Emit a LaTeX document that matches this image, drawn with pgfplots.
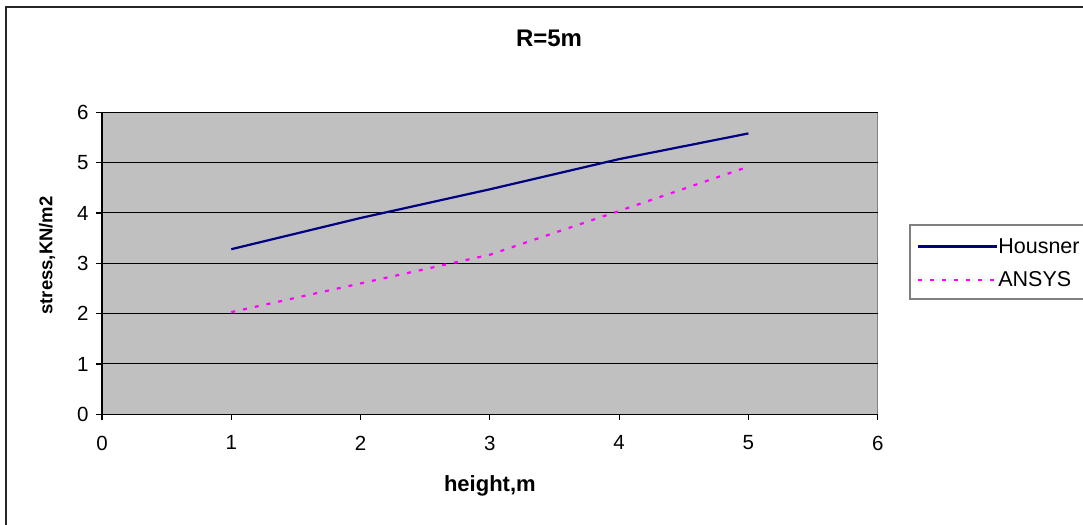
\documentclass[border=0pt]{standalone}
\usepackage{pgfplots}
\pgfplotsset{compat=1.18}
\usepackage{fontspec}
\setmainfont{Liberation Sans}
\definecolor{plotgray}{HTML}{C0C0C0}
\definecolor{framegray}{HTML}{808080}
\definecolor{housner}{HTML}{000080}
\definecolor{ansys}{HTML}{FF00FF}
\begin{document}
\begin{tikzpicture}[x=1bp,y=1bp]
\useasboundingbox (0,0) rectangle (1083,525);
\clip (0,0) rectangle (1083,525);
% chart frame
\draw[line width=1.5bp, black!85] (6,-5) -- (6,518) -- (1100,518);
% legend frame
\draw[framegray, line width=1.3bp] (910,300) rectangle (1100,226);
\begin{axis}[
  at={(102bp,110.7bp)}, anchor=south west,
  width=775.7bp, height=302bp, scale only axis,
  xmin=0, xmax=6, ymin=0, ymax=6,
  xtick={0,1,2,3,4,5,6}, ytick={0,1,2,3,4,5,6},
  axis x line=bottom, axis y line=left,
  x axis line style={-, black, line width=1.3bp},
  y axis line style={-, black, line width=1.3bp},
  axis background/.style={fill=plotgray, draw=framegray, line width=1.5bp},
  tick align=outside, major tick length=6bp,
  tick style={black, line width=1.2bp},
  ymajorgrids, grid style={black, line width=1bp},
  /pgf/number format/assume math mode=true,
  every tick label/.append style={font=\fontsize{20.5bp}{24bp}\selectfont},
  yticklabel style={xshift=-4bp},
  xticklabel style={yshift=-12bp},
  title={\textbf{R=5m}},
  title style={at={(axis description cs:0.5763,1.225)}, anchor=center,
    font=\fontsize{24bp}{28bp}\selectfont},
  xlabel={\textbf{height,m}},
  xlabel style={at={(axis description cs:0.5,-0.238)}, anchor=center,
    font=\fontsize{22bp}{26bp}\selectfont},
  ylabel={\textbf{stress,KN/m2}},
  ylabel style={at={(axis description cs:-0.0709,0.526)}, anchor=center,
    rotate=0, font=\fontsize{18.5bp}{22bp}\selectfont},
  legend style={at={(axis description cs:1.0506,0.5)}, anchor=west,
    draw=none, fill=none, inner sep=0pt, row sep=17bp,
    font=\fontsize{21.5bp}{25bp}\selectfont,
    nodes={inner sep=0pt}},
  legend cell align=left,
  legend image code/.code={%
    \path (0bp,0bp) -- (79bp,0bp);
    \draw[#1] (0bp,0bp) -- (75bp,0bp);},
]
\addplot[housner, line width=2.2bp] coordinates {
  (1,3.28) (2,3.90) (3,4.47) (4,5.07) (5,5.58)};
\addlegendentry{Housner}
\addplot[ansys, line width=2.2bp, dash pattern=on 4bp off 8bp] coordinates {
  (1,2.03) (2,2.60) (3,3.17) (4,4.04) (5,4.92)};
\addlegendentry{ANSYS}
\end{axis}
\end{tikzpicture}
\end{document}
